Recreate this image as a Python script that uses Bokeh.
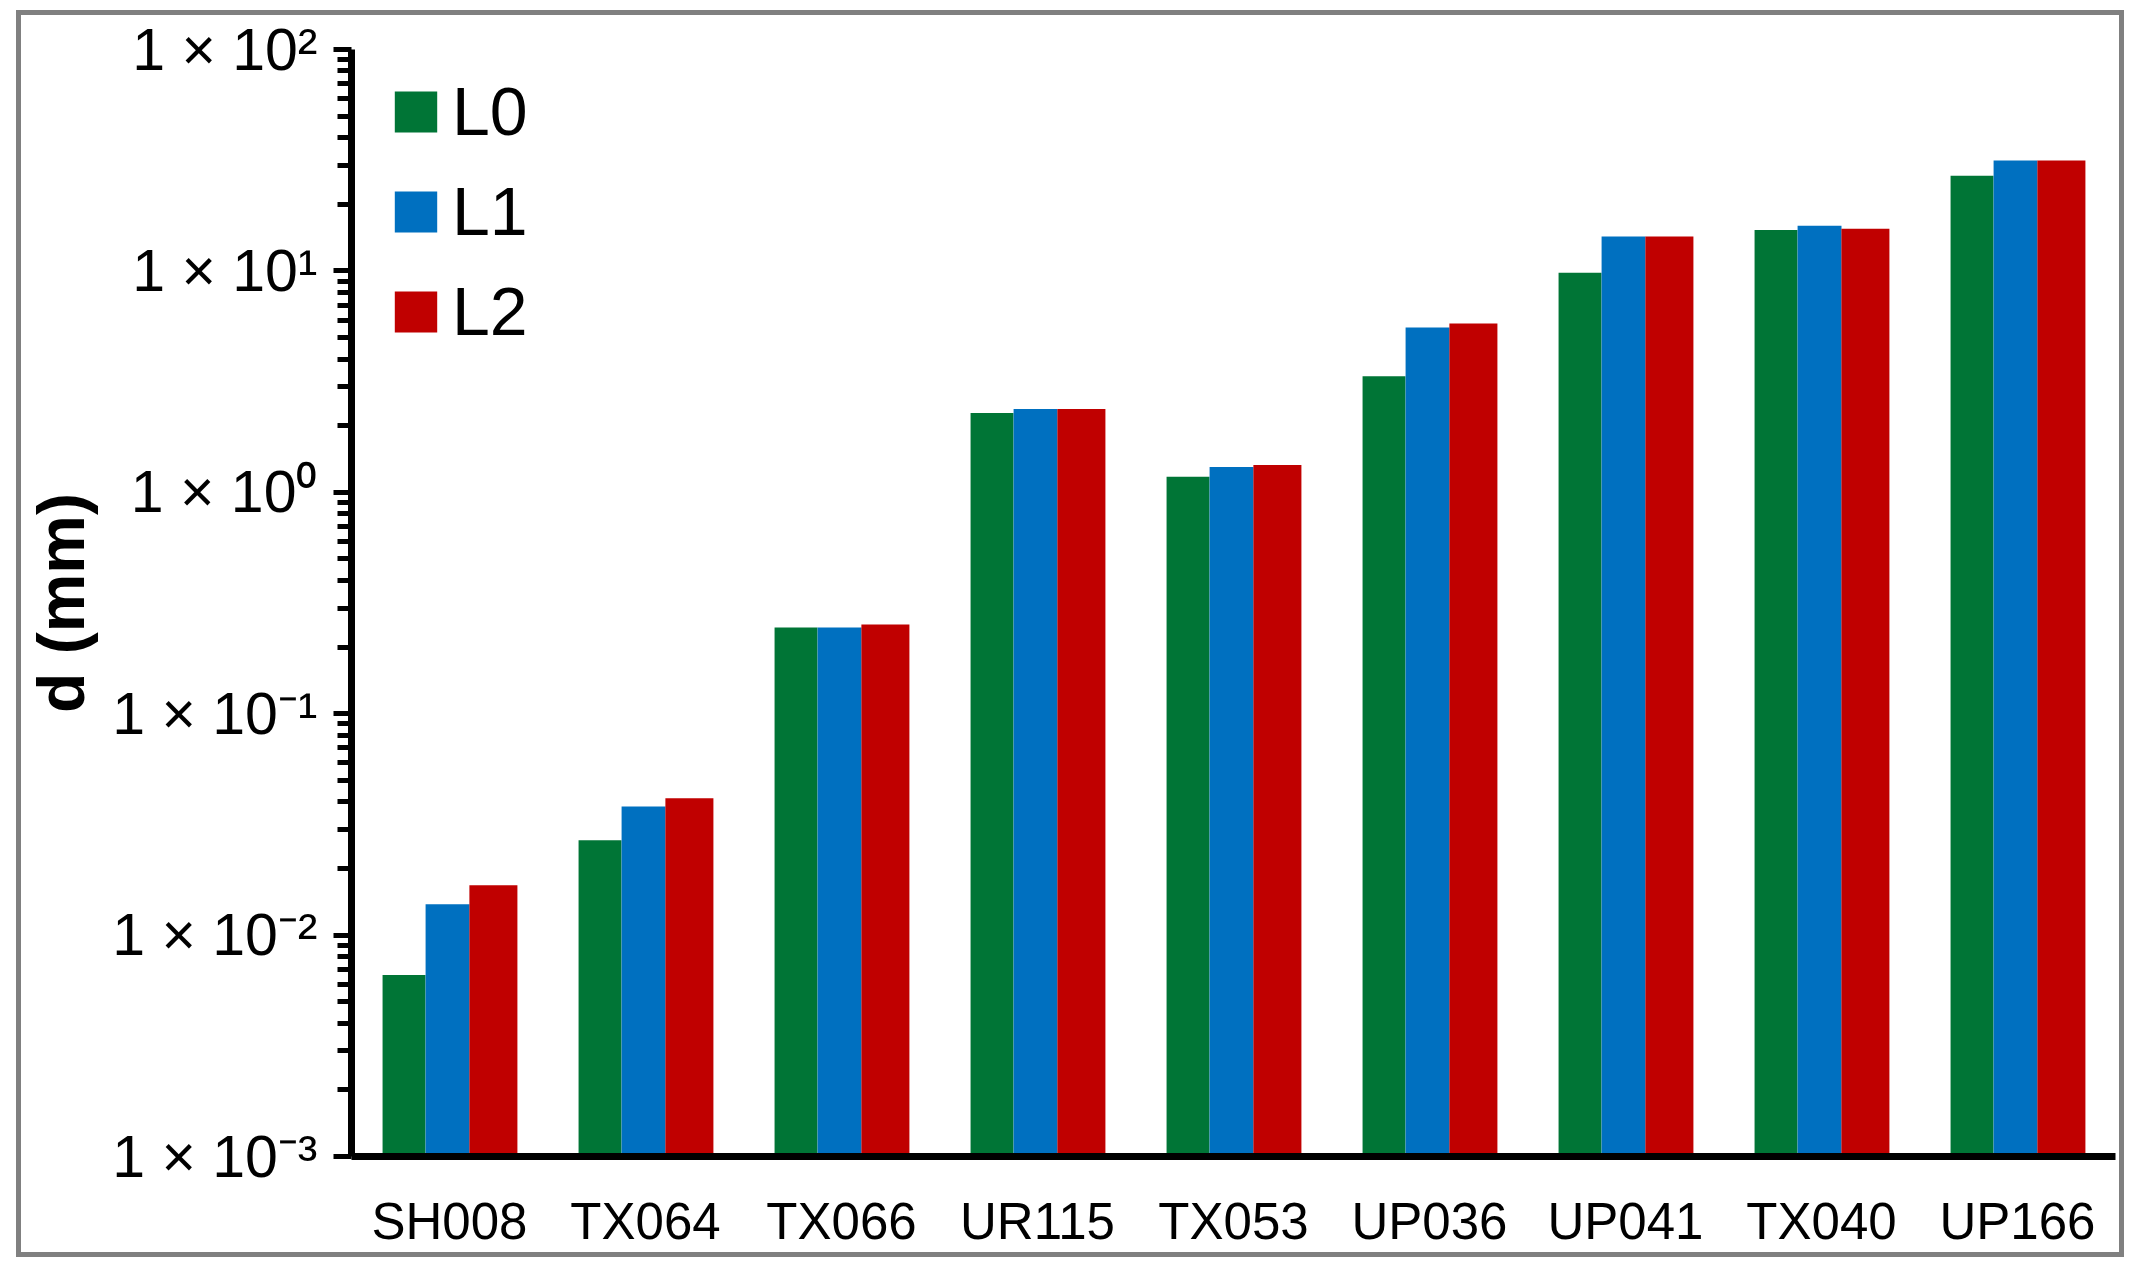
from bokeh.plotting import figure
from bokeh.models import FactorRange, Range1d, FixedTicker, Legend, LegendItem, ColumnDataSource
from bokeh.transform import dodge
from bokeh.embed import file_html
from bokeh.resources import INLINE

categories = ["SH008", "TX064", "TX066", "UR115", "TX053", "UP036", "UP041", "TX040", "UP166"]
series_names = ["L0", "L1", "L2"]
L0 = [0.0066, 0.0268, 0.245, 2.28, 1.175, 3.34, 9.8, 15.3, 26.9]
L1 = [0.0138, 0.0381, 0.245, 2.38, 1.30, 5.55, 14.3, 16.0, 31.5]
L2 = [0.0168, 0.0415, 0.253, 2.38, 1.33, 5.78, 14.3, 15.5, 31.5]
colors = ["#007536", "#0070C0", "#C00000"]
y_major_ticks = [0.001, 0.01, 0.1, 1, 10, 100]
y_tick_labels = ["1 × 10⁻³", "1 × 10⁻²", "1 × 10⁻¹", "1 × 10⁰", "1 × 10¹", "1 × 10²"]
y_minor_mantissas = [2, 3, 4, 5, 6, 7, 8, 9]
y_label = "d (mm)"

src = ColumnDataSource(dict(cat=categories, L0=L0, L1=L1, L2=L2))

FONT = "Liberation Sans"

p = figure(
    x_range=FactorRange(*categories, range_padding=0),
    y_range=Range1d(1e-3, 100),
    y_axis_type="log",
    width=2098, height=1237,
    output_backend="svg", toolbar_location=None,
    min_border_left=329, min_border_right=4, min_border_top=34, min_border_bottom=90,
)
p.styles = {"outline": "5px solid #808080"}
p.margin = (15, 0, 0, 21)

bar_offsets = [-0.232, -0.010, 0.224]
bar_widths = [0.219, 0.224, 0.245]
renderers = []
for name, off, w, col in zip(series_names, bar_offsets, bar_widths, colors):
    r = p.vbar(x=dodge("cat", off, range=p.x_range), top=name, bottom=1e-3, width=w,
               source=src, fill_color=col, line_color=None)
    renderers.append(r)

p.xgrid.visible = False
p.ygrid.visible = False
p.outline_line_color = None

minor = [m * t for t in y_major_ticks[:-1] for m in y_minor_mantissas]
p.yaxis.ticker = FixedTicker(ticks=y_major_ticks, minor_ticks=minor)
p.yaxis.major_label_overrides = dict(zip(y_major_ticks, y_tick_labels))

for ax in (p.xaxis[0], p.yaxis[0]):
    ax.axis_line_width = 7
    ax.axis_line_color = "black"
    ax.major_label_text_font = FONT
    ax.major_label_text_color = "black"

p.yaxis.major_tick_line_width = 5
p.yaxis.minor_tick_line_width = 5
p.yaxis.major_tick_in = 0
p.yaxis.major_tick_out = 18
p.yaxis.minor_tick_in = 0
p.yaxis.minor_tick_out = 14
p.yaxis.major_label_text_font_size = "59px"
p.yaxis.major_label_standoff = 16
p.yaxis.axis_label = y_label
p.yaxis.axis_label_text_font = FONT
p.yaxis.axis_label_text_font_style = "bold"
p.yaxis.axis_label_text_font_size = "66px"
p.yaxis.axis_label_standoff = 11
p.yaxis.axis_label_text_color = "black"

p.xaxis.major_tick_line_color = None
p.xaxis.minor_tick_line_color = None
p.xaxis.major_label_text_font_size = "51px"
p.xaxis.major_label_standoff = 30

legend = Legend(
    items=[LegendItem(label=n, renderers=[r]) for n, r in zip(series_names, renderers)],
    location=(38, 806),
    label_text_font=FONT, label_text_font_size="68px", label_text_color="black",
    glyph_width=53, glyph_height=51, label_standoff=10,
    spacing=22, padding=0, margin=0,
    background_fill_alpha=0, border_line_alpha=0,
)
p.add_layout(legend)

open("out.html", "w").write(file_html(p, INLINE))
